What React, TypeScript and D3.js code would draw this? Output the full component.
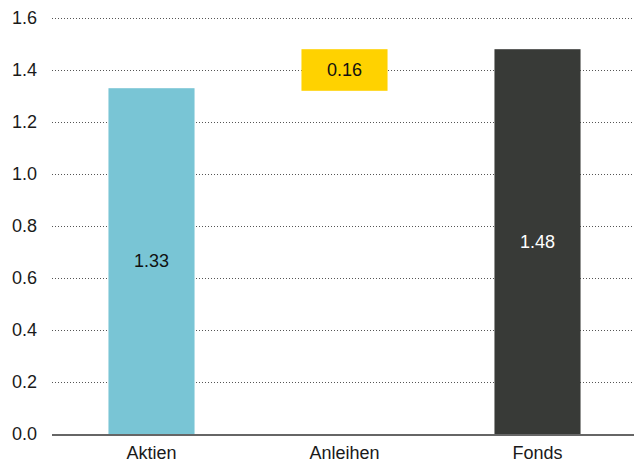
import { useEffect, useRef } from "react";
import * as d3 from "d3";

const categories = ["Aktien", "Anleihen", "Fonds"];
const values = [1.33, 0.16, 1.48];
const kinds = ["total", "delta", "total"];
const barColors = ["#79c5d5", "#ffd200", "#383a37"];
const labelColors = ["#111111", "#111111", "#ffffff"];
const yTicks = [0, 0.2, 0.4, 0.6, 0.8, 1.0, 1.2, 1.4, 1.6];

const WIDTH = 634;
const HEIGHT = 463;
const FONT = "'Liberation Sans', Arial, sans-serif";

export default function App() {
  const svgRef = useRef<SVGSVGElement>(null);

  useEffect(() => {
    document.body.style.margin = "0";
    if (!svgRef.current) return;

    const margin = { top: 18, right: 0, bottom: 29, left: 52 };
    const svg = d3.select(svgRef.current);
    svg.selectAll("*").remove();

    const x = d3.scaleBand<string>()
      .domain(categories)
      .range([55, WIDTH])
      .paddingInner(0.554)
      .paddingOuter(0.277);

    const y = d3.scaleLinear()
      .domain([0, 1.6])
      .range([HEIGHT - margin.bottom, margin.top]);

    // Grid lines (dotted)
    svg.append("g")
      .selectAll("line")
      .data(yTicks.filter(t => t > 0))
      .join("line")
      .attr("x1", margin.left)
      .attr("x2", WIDTH - margin.right)
      .attr("y1", d => y(d) + 0.5)
      .attr("y2", d => y(d) + 0.5)
      .attr("stroke", "#555")
      .attr("stroke-width", 1)
      .attr("stroke-dasharray", "1,2");

    // Tick labels
    svg.append("g")
      .selectAll("text")
      .data(yTicks)
      .join("text")
      .attr("x", 37)
      .attr("y", d => y(d))
      .attr("dy", "0.35em")
      .attr("text-anchor", "end")
      .attr("font-family", FONT)
      .attr("font-size", 18)
      .attr("fill", "#1a1a1a")
      .text(d => d.toFixed(1));

    // Waterfall bars: totals start at zero, deltas hang from the next total
    const spans = values.map((v, i) => {
      if (kinds[i] === "total") return [0, v];
      const next = values[i + 1];
      return [next - v, next];
    });

    svg.append("g")
      .selectAll("rect")
      .data(categories)
      .join("rect")
      .attr("x", d => x(d)!)
      .attr("width", x.bandwidth())
      .attr("y", (_, i) => y(spans[i][1]))
      .attr("height", (_, i) => y(spans[i][0]) - y(spans[i][1]))
      .attr("fill", (_, i) => barColors[i]);

    // Value labels
    svg.append("g")
      .selectAll("text")
      .data(categories)
      .join("text")
      .attr("x", d => x(d)! + x.bandwidth() / 2)
      .attr("y", (_, i) => y((spans[i][0] + spans[i][1]) / 2))
      .attr("dy", "0.35em")
      .attr("text-anchor", "middle")
      .attr("font-family", FONT)
      .attr("font-size", 18)
      .attr("fill", (_, i) => labelColors[i])
      .text((_, i) => values[i].toFixed(2));

    // Baseline
    svg.append("line")
      .attr("x1", margin.left)
      .attr("x2", WIDTH - margin.right)
      .attr("y1", y(0) + 1)
      .attr("y2", y(0) + 1)
      .attr("stroke", "#666")
      .attr("stroke-width", 2);

    // Category labels
    svg.append("g")
      .selectAll("text")
      .data(categories)
      .join("text")
      .attr("x", d => x(d)! + x.bandwidth() / 2)
      .attr("y", HEIGHT - 4)
      .attr("text-anchor", "middle")
      .attr("font-family", FONT)
      .attr("font-size", 18)
      .attr("fill", "#1a1a1a")
      .text(d => d);
  }, []);

  return (
    <svg ref={svgRef} width={WIDTH} height={HEIGHT} style={{ display: "block", background: "#fff" }} />
  );
}
